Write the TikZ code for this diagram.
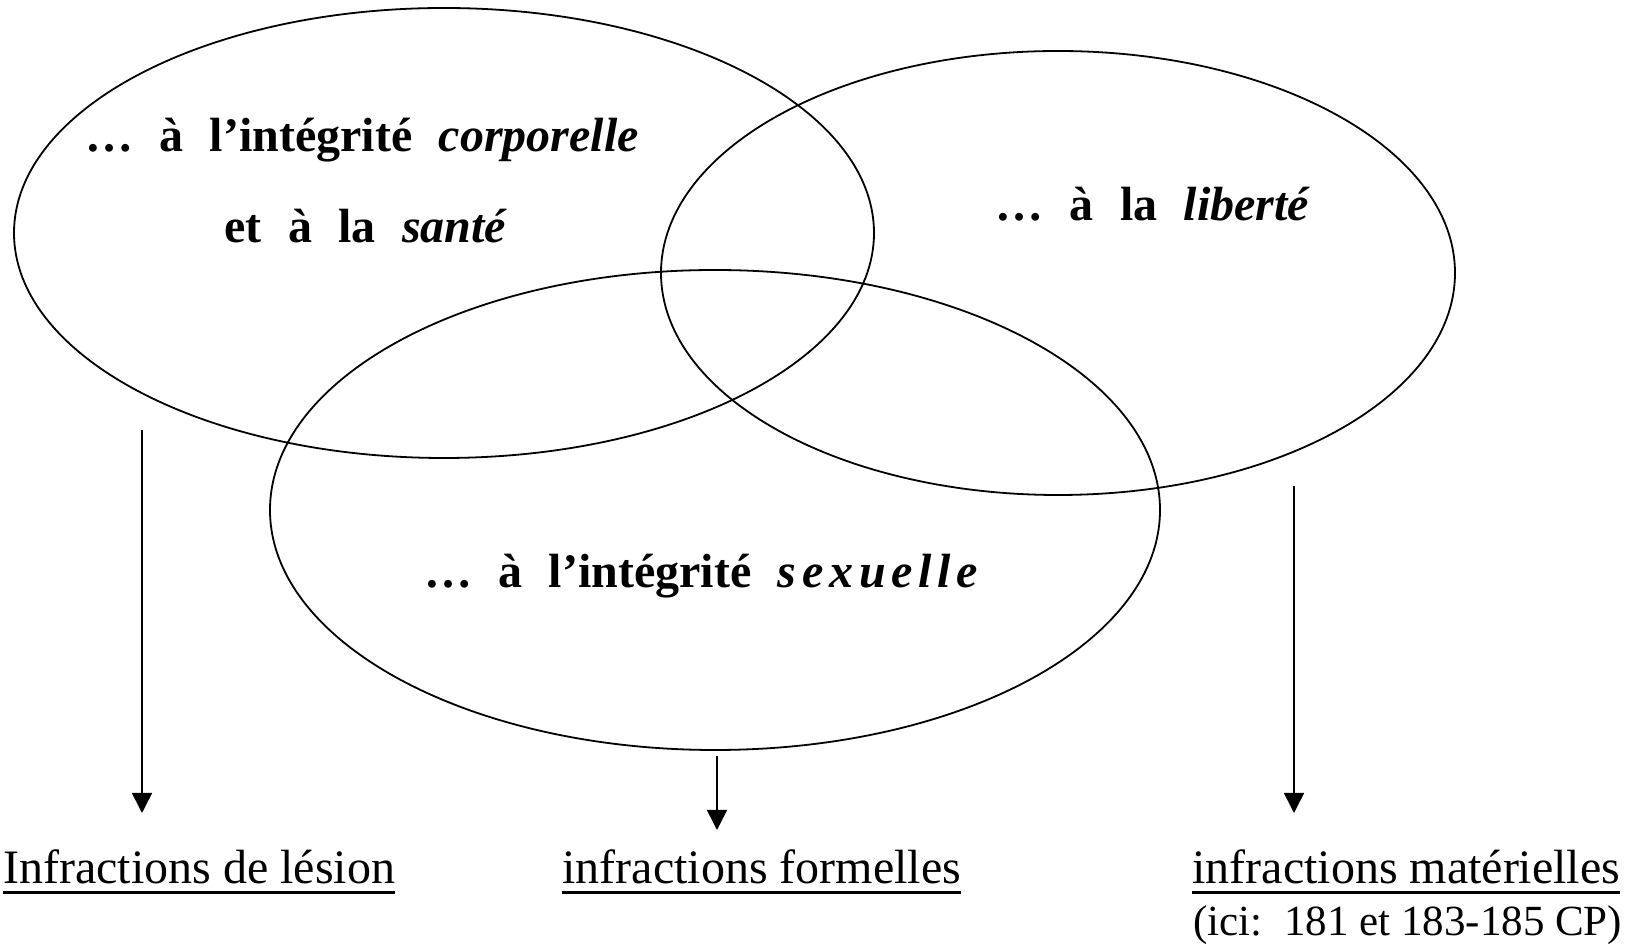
\documentclass[tikz,border=0pt]{standalone}
\usepackage{fontspec}
\setmainfont{Liberation Serif}
\newfontfamily\grasespace[WordSpace=2.2]{Liberation Serif}
\usetikzlibrary{positioning,arrows.meta,shapes.geometric}
\newcommand{\souligne}[1]{\sbox0{#1}\rlap{\rule[-5pt]{\wd0}{1.3pt}}\usebox0}
\newcommand{\espace}[1]{{\addfontfeatures{LetterSpace=12}#1}}

\begin{document}
\begin{tikzpicture}[
  x=0.5pt, y=-0.5pt,
  bulle/.style={
    ellipse,
    draw=black,
    line width=0.9pt,
    inner sep=0pt
  },
  titre/.style={
    inner sep=0pt,
    anchor=base,
    font=\fontsize{24pt}{28pt}\selectfont\grasespace\bfseries
  },
  etiquette/.style={
    inner sep=0pt,
    anchor=base west,
    font=\fontsize{24pt}{28pt}\selectfont
  },
  fleche/.style={
    -{Triangle[length=10pt,width=10pt]},
    line width=0.8pt
  }
]
\useasboundingbox (0,0) rectangle (1630,945);

% Ellipses
\node[bulle, minimum width=430pt, minimum height=225pt] (corps) at (444,233) {};
\node[bulle, minimum width=397pt, minimum height=222pt] (liberte) at (1058,273) {};
\node[bulle, minimum width=445pt, minimum height=240pt] (sexe) at (715,510) {};

% Texts in the ellipses
\node[titre] (corps1) at (362,152) {… à l’intégrité \textit{corporelle}};
\node[titre] (corps2) at (366,243) {et à la \textit{santé}};
\node[titre] (libtxt) at (1153,221) {… à la \textit{liberté}};
\node[titre] (sextxt) at (704,588) {… à l’intégrité \textit{\espace{sexuelle}}};

% Labels below
\node[etiquette] (lesion) at (3,884) {\souligne{Infractions de lésion}};
\node[etiquette] (formelles) at (562,884) {\souligne{infractions formelles}};
\node[etiquette] (materielles) at (1192,884) {\souligne{infractions matérielles}};
\node[etiquette, font=\fontsize{21.5pt}{25pt}\selectfont] (ici) at (1193,936) {(ici:\ \ 181 et 183-185 CP)};

% Arrows
\coordinate (d1) at (142,430);
\coordinate (f1) at (142,813);
\coordinate (d2) at (717,756);
\coordinate (f2) at (717,830);
\coordinate (d3) at (1294,486);
\coordinate (f3) at (1294,813);
\draw[fleche] (d1) -- (f1);
\draw[fleche] (d2) -- (f2);
\draw[fleche] (d3) -- (f3);

\end{tikzpicture}
\end{document}
